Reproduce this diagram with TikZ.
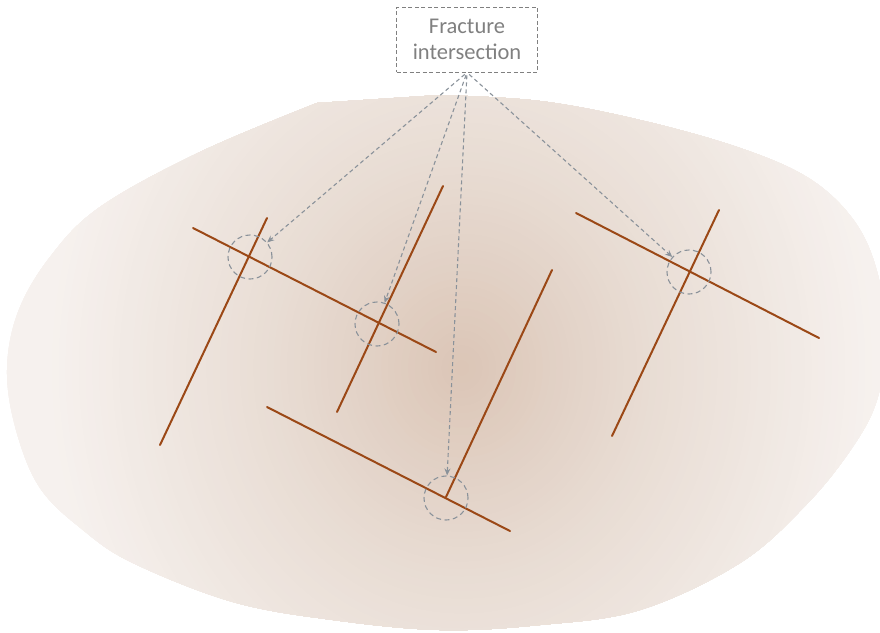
\documentclass[tikz,border=0pt]{standalone}
\usepackage{fontspec}
\setmainfont{Carlito}
\usetikzlibrary{arrows.meta}
\definecolor{blobin}{RGB}{219,197,182}
\definecolor{blobmid}{RGB}{232,220,211}
\definecolor{blobout}{RGB}{246,241,238}
\definecolor{frac}{RGB}{155,72,22}
\definecolor{dgrey}{RGB}{138,146,154}
\definecolor{lblgrey}{RGB}{128,128,128}
\tikzset{
  fracline/.style={draw=frac, line width=2pt, line cap=round},
  xcircle/.style={circle, draw=dgrey, dash pattern=on 5pt off 3.5pt, line width=1.1pt, minimum size=44pt, inner sep=0pt},
  pointer/.style={draw=dgrey, dash pattern=on 4pt off 3pt, line width=1.1pt, -{Stealth[length=7pt,width=6pt]}, shorten <=3pt},
  lblbox/.style={draw=lblgrey, dash pattern=on 4pt off 2.5pt, line width=0.9pt, minimum width=141pt, minimum height=65pt, align=center, text=lblgrey, font=\fontsize{22.5}{26}\selectfont, inner sep=2pt}
}
\begin{document}
\begin{tikzpicture}[x=1pt,y=-1pt]
\useasboundingbox (0,0) rectangle (880,632);
% blob
\def\blobpath{(317,103) -- plot[smooth, tension=0.6] coordinates {(440,95) (540,101) (640,120) (740,148) (810,179) (855,222) (878,275) (886,340) (877,400) (852,448) (806,505) (740,563) (640,610) (540,625) (440,630) (333,620) (233,602) (133,563) (83,530) (40,488) (16,430) (7,370) (18,312) (50,257) (100,207) (200,152) (317,103)} -- cycle}
\begin{scope}
  \clip \blobpath;
  \fill[blobout] (0,0) rectangle (880,632);
  \foreach \i in {0,...,69}{
    \pgfmathsetmacro\t{1-\i/70}
    \pgfmathsetmacro\pa{max(0,min(100,(0.88-\t)/0.48*100))}
    \pgfmathsetmacro\pb{max(0,min(100,(0.4-\t)/0.4*100))}
    \fill[blobin!\pb!blobmid!\pa!blobout] (462,368) ellipse ({470*\t} and {520*\t});
  }
\end{scope}
% fractures
\draw[fracline] (160,445) -- (267,218);
\draw[fracline] (193,228) -- (436,352);
\draw[fracline] (337,412) -- (443,186);
\draw[fracline] (267,407) -- (510,531);
\draw[fracline] (552,270) -- (446,497);
\draw[fracline] (576,213) -- (819,338);
\draw[fracline] (719,210) -- (612,436);
% intersection circles
\node[xcircle] (i1) at (250,257) {};
\node[xcircle] (i2) at (377,324) {};
\node[xcircle] (i3) at (446,498) {};
\node[xcircle] (i4) at (689,272) {};
% label
\node[lblbox] (lbl) at (467,39.5) {Fracture\\intersection};
% pointers
\draw[pointer] (lbl.south) -- (i1);
\draw[pointer] (lbl.south) -- (i2);
\draw[pointer] (lbl.south) -- (i3);
\draw[pointer] (lbl.south) -- (i4);
\end{tikzpicture}
\end{document}
